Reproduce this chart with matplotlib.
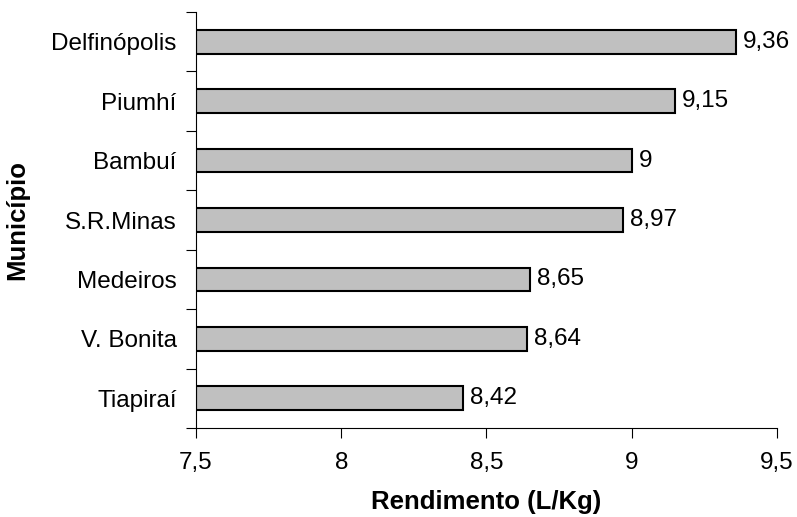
import matplotlib.pyplot as plt
from matplotlib.ticker import FixedLocator, FuncFormatter

plt.rcParams['font.family'] = ['Liberation Sans', 'DejaVu Sans']

municipios = ['Delfinópolis', 'Piumhí', 'Bambuí', 'S.R.Minas', 'Medeiros', 'V. Bonita', 'Tiapiraí']
rendimento = [9.36, 9.15, 9.0, 8.97, 8.65, 8.64, 8.42]
rotulos = ['9,36', '9,15', '9', '8,97', '8,65', '8,64', '8,42']
xticks = [7.5, 8, 8.5, 9, 9.5]

fig = plt.figure(figsize=(7.97, 5.17), dpi=100)
ax = fig.add_axes([0.2459, 0.1721, 0.9749 - 0.2459, 0.9768 - 0.1721])

pos = list(range(len(municipios)))
bars = ax.barh(pos, [v - 7.5 for v in rendimento], left=7.5, height=0.4,
               color='#c0c0c0', edgecolor='black', linewidth=1.5)
for b, txt in zip(bars, rotulos):
    ax.annotate(txt, (b.get_x() + b.get_width(), b.get_y() + b.get_height() / 2),
                xytext=(5, 0), textcoords='offset points', va='center', ha='left', fontsize=17.5)

ax.set_xlim(7.5, 9.5)
ax.set_ylim(len(municipios) - 0.5, -0.5)
ax.set_xticks(xticks)
ax.xaxis.set_major_formatter(FuncFormatter(lambda v, p: ('%g' % v).replace('.', ',')))
ax.set_yticks(pos)
ax.set_yticklabels(municipios)
ax.yaxis.set_minor_locator(FixedLocator([i - 0.5 for i in range(len(municipios) + 1)]))
ax.tick_params(axis='y', which='major', length=0, pad=14, labelsize=17.5)
ax.tick_params(axis='y', which='minor', length=7, width=0.8, direction='out')
ax.tick_params(axis='x', length=7, width=0.8, direction='out', pad=10, labelsize=17.5)

for s in ['top', 'right']:
    ax.spines[s].set_visible(False)
for s in ['left', 'bottom']:
    ax.spines[s].set_linewidth(0.8)

ax.set_xlabel('Rendimento (L/Kg)', fontsize=18.5, fontweight='bold', labelpad=12)
ax.set_ylabel('Município', fontsize=18.5, fontweight='bold', labelpad=16)

fig.savefig('out.png', dpi=100)
